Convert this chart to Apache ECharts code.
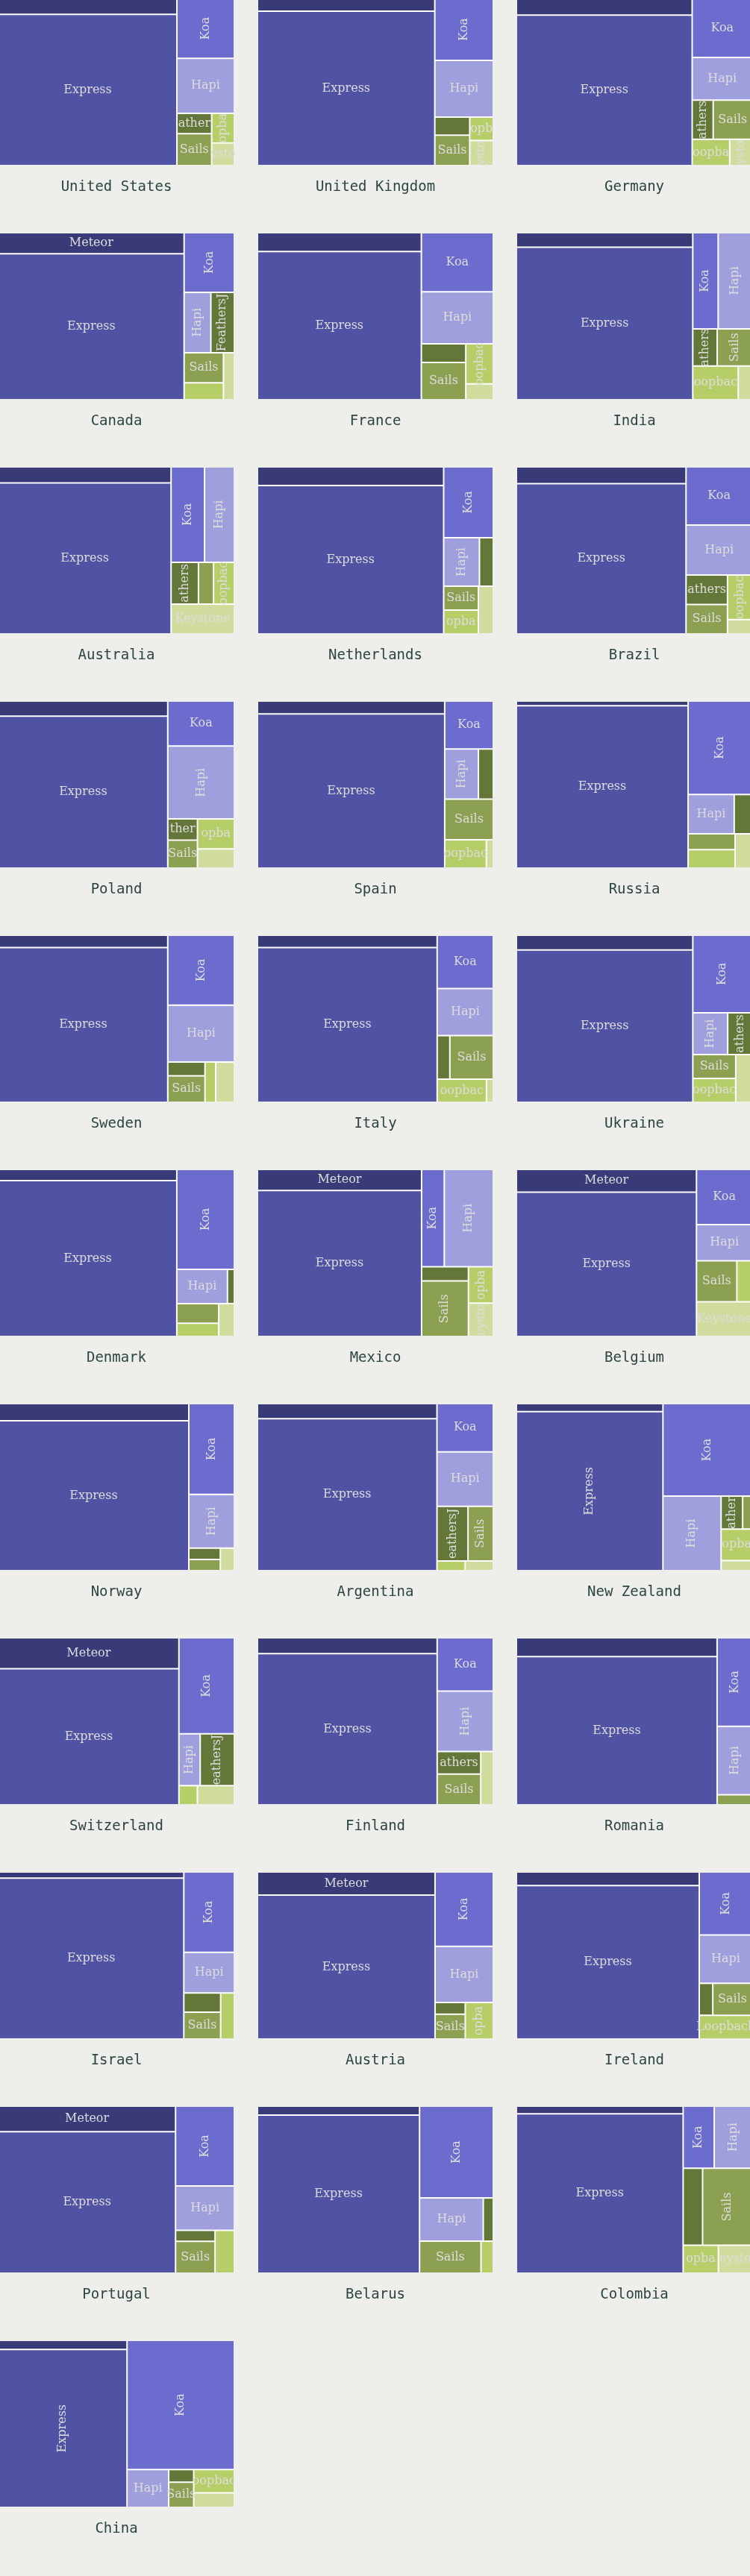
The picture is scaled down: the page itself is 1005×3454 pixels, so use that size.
<!DOCTYPE html>
<html>
<head>
<meta charset="utf-8">
<script src="https://cdn.jsdelivr.net/npm/echarts@6/dist/echarts.min.js"></script>
<style>
html,body{margin:0;padding:0;background:#eeefeb;}
#c{width:1005px;height:3454px;}
</style>
</head>
<body>
<div id="c"></div>
<script>
// ---- data (share of respondents, %) ----
const countries = ['United States','United Kingdom','Germany','Canada','France','India','Australia','Netherlands','Brazil','Poland','Spain','Russia','Sweden','Italy','Ukraine','Denmark','Mexico','Belgium','Norway','Argentina','New Zealand','Switzerland','Finland','Romania','Israel','Austria','Ireland','Portugal','Belarus','Colombia','China'];
const frameworks = ['Meteor','Express','Koa','Hapi','FeathersJS','Sails','Loopback','Keystone'];
const meteor   = [7.2,5.7,7.4,9.9,7.8,6.5,7.0,8.8,7.2,6.5,6.1,2.0,5.3,5.6,6.6,5.1,8.8,10.4,8.3,6.9,3.0,14.2,7.2,9.6,2.9,10.4,6.3,11.5,3.7,3.2,3.0];
const express  = [68.3,69.5,67.2,68.8,61.7,68.2,66.1,70.0,64.8,65.2,73.3,70.8,66.4,70.6,68.2,70.5,60.8,65.8,72.4,69.3,59.2,62.3,69.0,75.5,75.6,64.9,71.3,63.5,65.1,67.5,51.5];
const koa      = [8.7,9.2,9.0,7.6,10.8,6.2,8.1,8.9,9.8,7.6,5.9,15.2,11.8,7.6,11.7,14.6,5.6,7.8,10.5,6.9,21.0,13.5,7.6,7.9,10.3,11.0,8.5,11.9,17.2,4.9,35.2];
const hapi     = [8.0,8.4,6.5,4.1,9.5,8.3,7.2,4.4,8.4,12.3,4.3,4.6,9.6,6.7,3.7,4.4,12.1,5.1,6.2,7.8,11.0,2.8,8.6,6.1,5.2,8.3,6.5,6.6,7.0,6.0,4.0];
const feathers = [1.8,1.6,2.1,3.6,2.1,2.3,2.9,1.7,3.1,1.6,1.9,1.8,1.3,1.4,2.6,0.6,1.7,0,0.9,4.3,1.8,4.5,2.5,0,1.8,0.9,1.1,1.1,1.1,3.8,0.8];
const sails    = [2.8,2.7,3.9,3.0,4.2,3.3,1.6,2.1,3.1,2.1,5.0,1.9,2.5,4.8,2.6,2.1,6.6,4.2,0.9,3.5,0.8,0,3.4,0.9,2.5,1.9,3.2,3.2,5.0,9.7,1.6];
const loopback = [1.7,1.4,2.5,1.7,2.8,3.9,2.2,2.1,2.8,2.8,3.0,2.2,1.1,2.9,2.6,1.4,2.3,1.6,0,0.7,2.5,0.9,0,0,1.6,2.6,3.2,2.1,1.0,2.5,2.4];
const keystone = [1.3,1.5,1.5,1.3,1.1,1.2,4.8,1.8,0.9,1.8,0.5,1.5,1.9,0.4,2.0,1.3,2.1,4.9,0.8,0.7,0.8,1.8,1.7,0,0,0,0,0,0,2.4,1.5];
const seriesValues = [meteor, express, koa, hapi, feathers, sails, loopback, keystone];

// ---- styling ----
const colors = ['#393a78','#5052a3','#6b6cce','#9e9fdc','#637838','#8ca052','#b6ce68','#d0dc9d'];
const COLS = 3, CELL_W = 312, CELL_H = 220, PITCH_X = 347, PITCH_Y = 314, TITLE_DY = 251;
const LABEL_FONT_SIZE = 16, LABEL_FONT = 'DejaVu Serif';
const BG = '#eeefeb';
const GOLDEN = 0.5 * (1 + Math.sqrt(5));
const RATIO_OVERRIDE = {'Belgium': 1.25};

const chart = echarts.init(document.getElementById('c'), null, {renderer: 'canvas'});

function buildData(ci, labels) {
  const out = [];
  frameworks.forEach((f, j) => {
    const v = seriesValues[j][ci];
    if (!(v > 0)) return;
    out.push({
      name: f,
      value: v,
      itemStyle: {color: colors[j]},
      label: (labels && labels[f]) ? labels[f] : {show: false}
    });
  });
  return out;
}

const series = countries.map((c, i) => {
  const col = i % COLS, row = Math.floor(i / COLS);
  return {
    type: 'treemap',
    name: c,
    left: col * PITCH_X - 1,
    top: row * PITCH_Y - 1,
    width: CELL_W + 2,
    height: CELL_H + 2,
    sort: false,
    roam: false,
    nodeClick: false,
    breadcrumb: {show: false},
    visibleMin: 0,
    squareRatio: RATIO_OVERRIDE[c] || GOLDEN,
    itemStyle: {borderWidth: 0, gapWidth: 2, borderColor: '#ffffff'},
    label: {
      show: true, position: 'inside', padding: 0, color: '#dddddd',
      fontFamily: LABEL_FONT, fontSize: LABEL_FONT_SIZE, overflow: 'none'
    },
    upperLabel: {show: false},
    emphasis: {disabled: true},
    animation: false,
    data: buildData(i, null)
  };
});

const titles = countries.map((c, i) => ({
  text: c,
  left: (i % COLS) * PITCH_X + CELL_W / 2,
  top: Math.floor(i / COLS) * PITCH_Y + TITLE_DY,
  textAlign: 'center',
  textVerticalAlign: 'middle',
  padding: 0,
  textStyle: {fontFamily: 'DejaVu Sans Mono', fontSize: 19, fontWeight: 'normal', color: '#2c4543'}
}));

chart.setOption({backgroundColor: BG, animation: false, title: titles, series: series});

// ---- second pass: label orientation / centred clipping from the library's layout ----
const ctx = document.createElement('canvas').getContext('2d');
ctx.font = LABEL_FONT_SIZE + 'px "' + LABEL_FONT + '"';
function clipCenter(text, avail) {
  const full = ctx.measureText(text).width;
  if (full <= avail) return text;
  const lo = (full - avail) / 2, hi = (full + avail) / 2;
  let x = 0, out = '';
  for (const ch of text) {
    const w = ctx.measureText(ch).width;
    const mid = x + w / 2;
    if (mid >= lo && mid <= hi) out += ch;
    x += w;
  }
  return out;
}

const newSeries = countries.map((c, i) => {
  const labels = {};
  try {
    const sm = chart.getModel().getSeriesByIndex(i);
    sm.getData().tree.root.children.forEach(node => {
      const lay = node.getLayout();
      if (!lay) return;
      const w = lay.width, h = lay.height;
      const rot = h > w * 1.025;
      const along = rot ? h : w, cross = rot ? w : h;
      if (cross < 24.5) { labels[node.name] = {show: false}; return; }
      const t = clipCenter(node.name, along);
      labels[node.name] = t ? {show: true, rotate: rot ? 90 : 0, formatter: t} : {show: false};
    });
  } catch (e) {}
  return {data: buildData(i, labels)};
});
chart.setOption({series: newSeries});
</script>
</body>
</html>
